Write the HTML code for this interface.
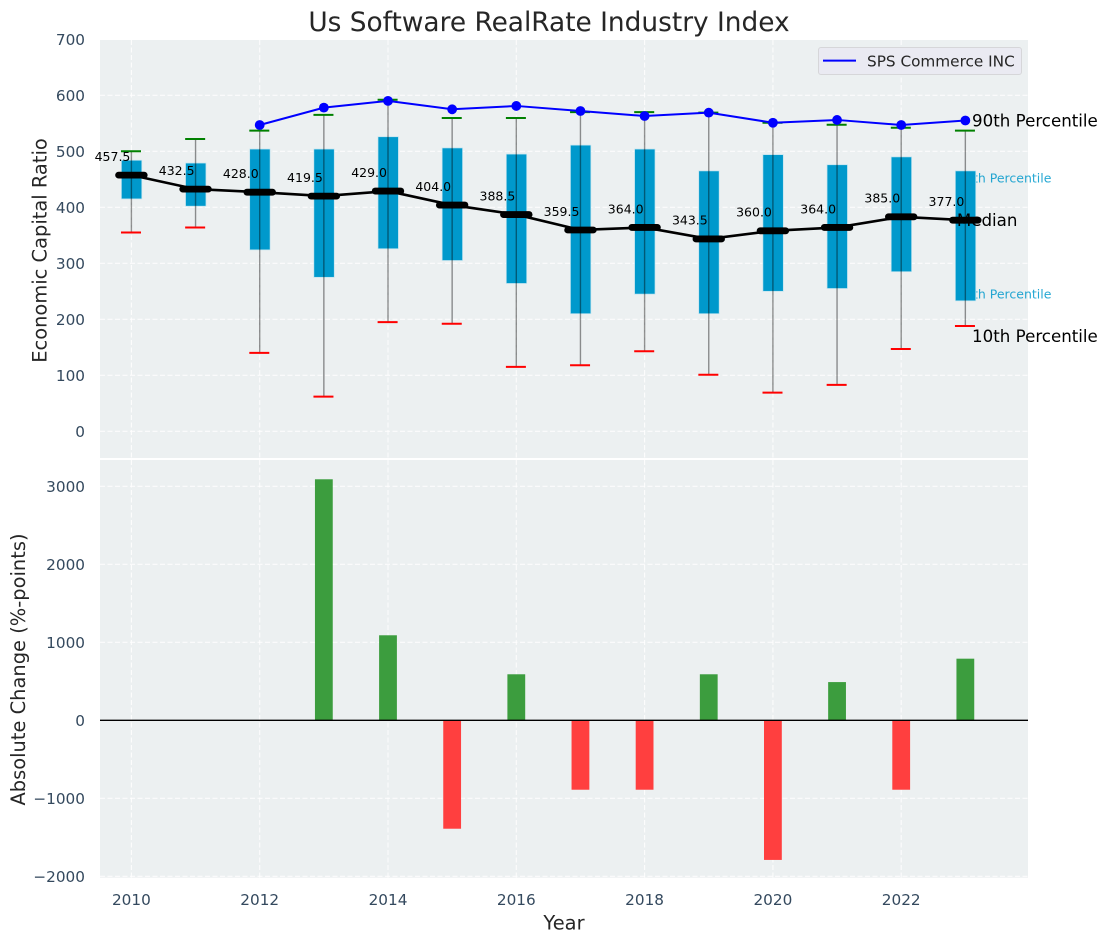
<!DOCTYPE html>
<html lang="en">
<head>
<meta charset="utf-8">
<title>Us Software RealRate Industry Index</title>
<style>
html,body{margin:0;padding:0;background:#fff;}
svg{display:block;font-family:"DejaVu Sans","Liberation Sans",sans-serif;}
</style>
</head>
<body>
<svg id="chart" xmlns="http://www.w3.org/2000/svg" width="1107" height="942" viewBox="0 0 1107 942">
  <rect x="0" y="0" width="1107" height="942" fill="#ffffff"/>
  <rect x="100" y="40" width="928" height="418" fill="#ecf0f1"/>
  <rect x="100" y="460" width="928" height="417.7" fill="#ecf0f1"/>
  <g id="gridLayer"></g>
  <g id="backLabelLayer"></g>
  <g id="boxLayer"></g>
  <g id="whiskerLayer"></g>
  <g id="medianLayer"></g>
  <g id="companyLayer"></g>
  <g id="valueLabelLayer"></g>
  <g id="barLayer"></g>
  <g id="tickLayer"></g>

  <text x="549" y="31" font-size="26.39" text-anchor="middle" fill="#262626">Us Software RealRate Industry Index</text>
  <text x="564" y="929.5" font-size="19.44" text-anchor="middle" fill="#262626">Year</text>
  <text transform="translate(46.5,250.5) rotate(-90)" font-size="19.44" text-anchor="middle" fill="#262626">Economic Capital Ratio</text>
  <text transform="translate(25,669.5) rotate(-90)" font-size="19.44" text-anchor="middle" fill="#262626">Absolute Change (%-points)</text>

  <g>
    <rect x="818.5" y="47.5" width="203" height="27" rx="2.5" fill="#eaeaf2" stroke="#d6d6d9" stroke-width="1"/>
    <line x1="823" y1="60.6" x2="856" y2="60.6" stroke="#0000ff" stroke-width="2"/>
    <text x="867" y="66.3" font-size="15.28" fill="#262626">SPS Commerce INC</text>
  </g>

  <g id="frontLabelLayer"></g>
</svg>
<script>
var years = [2010,2011,2012,2013,2014,2015,2016,2017,2018,2019,2020,2021,2022,2023];
var p90 = [500,522,537,565,592,559.5,559.5,570,570,569,551,547.5,542,537];
var q3 = [484,479,504,504,526,506,495,511,504,465,494,476,490,465];
var medians = [457.5,432.5,427,420,429,404,387,359.5,364,343.5,358,364,383,377];
var q1 = [415,402,324,275,326,305,264,210,245,210,250,255,285,233];
var p10 = [355,364,140,62,195,192,115,118,143,101,69,83,147,188];
var medianLabels = ["457.5","432.5","428.0","419.5","429.0","404.0","388.5","359.5","364.0","343.5","360.0","364.0","385.0","377.0"];
var companyYears = [2012,2013,2014,2015,2016,2017,2018,2019,2020,2021,2022,2023];
var companyValues = [547,578,590,575,581,572,563,569,551,556,547,555];
var changeYears = [2013,2014,2015,2016,2017,2018,2019,2020,2021,2022,2023];
var changeValues = [3090,1090,-1390,590,-890,-890,590,-1790,490,-890,790];
var xTicks = [2010,2012,2014,2016,2018,2020,2022];
var topYTicks = [0,100,200,300,400,500,600,700];
var bottomYTicks = [-2000,-1000,0,1000,2000,3000];

var NS = 'http://www.w3.org/2000/svg';
function xScale(v){ return 131.4 + (v - 2010) * 64.15; }
function yTop(v){ return 431.3 - v * 0.56; }
function yBottom(v){ return 720.3 - v * 0.0780; }
function make(tag, parent, props){
  var el = document.createElementNS(NS, tag);
  for (var k in props) { el.setAttribute(k, props[k]); }
  document.getElementById(parent).appendChild(el);
  return el;
}

topYTicks.forEach(function(t){
  var g = make('line','gridLayer',{x1:100,x2:1028,y1:yTop(t),y2:yTop(t),stroke:'#ffffff','stroke-width':1.1,'stroke-dasharray':'5 2.5',opacity:.85});
  
  
  var l = make('text','tickLayer',{x:85,y:yTop(t)+5.5,'font-size':15.28,'text-anchor':'end',fill:'#34495e'});
  l.textContent = String(t);
  
  
});
bottomYTicks.forEach(function(t){
  var g = make('line','gridLayer',{x1:100,x2:1028,y1:yBottom(t),y2:yBottom(t),stroke:'#ffffff','stroke-width':1.1,'stroke-dasharray':'5 2.5',opacity:.85});
  
  
  var l = make('text','tickLayer',{x:85,y:yBottom(t)+5.5,'font-size':15.28,'text-anchor':'end',fill:'#34495e'});
  l.textContent = String(t).replace('-', '\u2212');
  
  
});
xTicks.forEach(function(t){
  var a = make('line','gridLayer',{x1:xScale(t),x2:xScale(t),y1:40,y2:458,stroke:'#ffffff','stroke-width':1.1,'stroke-dasharray':'5 2.5',opacity:.85});
  
  
  var b = make('line','gridLayer',{x1:xScale(t),x2:xScale(t),y1:460,y2:877.7,stroke:'#ffffff','stroke-width':1.1,'stroke-dasharray':'5 2.5',opacity:.85});
  
  
  var l = make('text','tickLayer',{x:xScale(t),y:905,'font-size':15.28,'text-anchor':'middle',fill:'#34495e'});
  l.textContent = String(t);
  
  
});

var last = years.length - 1;
var lastX = xScale(years[last]);
var q3Label = make('text','backLabelLayer',{x:lastX-8.3,y:yTop(q3[last])+11.5,'font-size':12.5,fill:'#0099cc',opacity:.85});
q3Label.textContent = '75th Percentile';


var q1Label = make('text','backLabelLayer',{x:lastX-8.3,y:yTop(q1[last])-2.5,'font-size':12.5,fill:'#0099cc',opacity:.85});
q1Label.textContent = '25th Percentile';



years.forEach(function(yr, i){
  var cx = xScale(yr);
  var box = make('rect','boxLayer',{x:cx-10,y:yTop(q3[i]),width:20.4,height:yTop(q1[i])-yTop(q3[i]),fill:'#0099cc',stroke:'#bfe3ef','stroke-width':.7});
  
  
  var wh = make('line','whiskerLayer',{x1:cx,x2:cx,y1:yTop(p90[i]),y2:yTop(p10[i]),stroke:'#000000','stroke-opacity':.42,'stroke-width':1.4});
  
  
  var capHi = make('line','whiskerLayer',{x1:cx-10.4,x2:cx+9.6,y1:yTop(p90[i]),y2:yTop(p90[i]),stroke:'#008000','stroke-width':2});
  
  
  var capLo = make('line','whiskerLayer',{x1:cx-10.4,x2:cx+9.6,y1:yTop(p10[i]),y2:yTop(p10[i]),stroke:'#ff0000','stroke-width':2});
  
  
  var md = make('line','medianLayer',{x1:cx-12.8,x2:cx+12.8,y1:yTop(medians[i]),y2:yTop(medians[i]),stroke:'#000000','stroke-width':6.8,'stroke-linecap':'round'});
  
  
  var vl = make('text','valueLabelLayer',{x:cx-1,y:yTop(medians[i])-14.2,'font-size':12.5,'text-anchor':'end',fill:'#000000'});
  vl.textContent = medianLabels[i];
  
  
});

var medianPath = make('polyline','medianLayer',{fill:'none',stroke:'#000000','stroke-width':2.6,points:years.map(function(yr,i){return xScale(yr)+','+yTop(medians[i]);}).join(' ')});



var companyPath = make('polyline','companyLayer',{fill:'none',stroke:'#0000ff','stroke-width':2,points:companyYears.map(function(yr,i){return xScale(yr)+','+yTop(companyValues[i]);}).join(' ')});


companyYears.forEach(function(yr, i){
  var p = make('circle','companyLayer',{cx:xScale(yr),cy:yTop(companyValues[i]),r:4.9,fill:'#0000ff'});
  
  
});

changeYears.forEach(function(yr, i){
  var v = changeValues[i];
  var y0 = yBottom(0), y1 = yBottom(v);
  var b = make('rect','barLayer',{x:xScale(yr)-8.9,y:Math.min(y0,y1),width:17.8,height:Math.abs(y1-y0),fill:v>=0?'#3c9d3e':'#ff3f3f'});
  
  
});
var zero = make('line','barLayer',{x1:100,x2:1028,y1:yBottom(0),y2:yBottom(0),stroke:'#000000','stroke-width':1.3});



var p90Label = make('text','frontLabelLayer',{x:lastX+6.7,y:yTop(companyValues[companyValues.length-1])+6,'font-size':16.67,fill:'#000000'});
p90Label.textContent = '90th Percentile';


var medianLabel = make('text','frontLabelLayer',{x:lastX-8.5,y:yTop(medians[last])+6,'font-size':16.67,fill:'#000000'});
medianLabel.textContent = 'Median';


var p10Label = make('text','frontLabelLayer',{x:lastX+6.7,y:yTop(p10[last])+16,'font-size':16.67,fill:'#000000'});
p10Label.textContent = '10th Percentile';


</script>
</body>
</html>
